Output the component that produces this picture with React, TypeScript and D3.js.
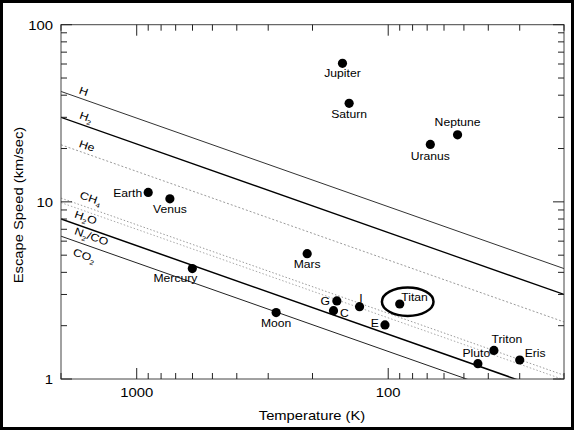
import React from "react";
import * as d3 from "d3";

// ---------- data ----------
const bodyNames = ["Earth", "Venus", "Mercury", "Jupiter", "Saturn", "Uranus", "Neptune", "Mars", "G", "C", "I", "Titan", "E", "Moon", "Triton", "Pluto", "Eris"];
const bodyTemps = [900, 738, 601, 152, 143, 68, 53, 210, 160, 165, 130, 90, 103, 279, 38, 44, 30];
const bodySpeeds = [11.3, 10.4, 4.2, 60.5, 36, 21.1, 23.9, 5.1, 2.76, 2.43, 2.56, 2.65, 2.02, 2.37, 1.45, 1.22, 1.28];

const gasNames = ["H", "H2", "He", "CH4", "H2O", "N2/CO", "CO2"];
const gasSpeedAt2000K = [42, 30, 21, 10.5, 9.9, 8.0, 6.4];
const gasSpeedAt20K = [4.2, 3.0, 2.1, 1.05, 0.99, 0.8, 0.64];

const xTickLabels = [1000, 100];
const yTickLabels = [1, 10, 100];

// ---------- layout ----------
const W = 574, H = 430;
const L = 61, R = 564, T = 24.7, B = 379;
const FONT = "'Liberation Sans', Arial, Helvetica, sans-serif";

// label placements (layout, not data)
const bodyLabelPos: Record<string, { a: string; dx: number; dy: number }> = {
  Earth: { a: "end", dx: -6, dy: 4.5 },
  Venus: { a: "middle", dx: 0, dy: 14 },
  Mercury: { a: "end", dx: 5, dy: 13 },
  Jupiter: { a: "middle", dx: 0, dy: 13.5 },
  Saturn: { a: "middle", dx: 0, dy: 15 },
  Uranus: { a: "middle", dx: 0, dy: 15.5 },
  Neptune: { a: "middle", dx: 0, dy: -9 },
  Mars: { a: "middle", dx: 0, dy: 14.5 },
  G: { a: "end", dx: -7, dy: 4 },
  C: { a: "start", dx: 6.5, dy: 6 },
  I: { a: "middle", dx: 1.5, dy: -5 },
  Titan: { a: "start", dx: 1.5, dy: -3 },
  E: { a: "end", dx: -6, dy: 2.5 },
  Moon: { a: "middle", dx: 0, dy: 14.5 },
  Triton: { a: "start", dx: -2.3, dy: -7 },
  Pluto: { a: "end", dx: 12.3, dy: -7 },
  Eris: { a: "start", dx: 5, dy: -3 },
};

const gasStyle = [
  { stroke: "#333", w: 1, dash: "" },
  { stroke: "#000", w: 1.3, dash: "" },
  { stroke: "#9a9a9a", w: 1, dash: "2,2" },
  { stroke: "#9a9a9a", w: 1, dash: "1.5,2" },
  { stroke: "#aaaaaa", w: 1, dash: "1.5,2" },
  { stroke: "#000", w: 1.5, dash: "" },
  { stroke: "#222", w: 1, dash: "" },
];
const gasLabelDy = [-4, -5, -4, -6, 9.5, 10, 14];

const SX = 1.18;

function GasLabel({ name, size }: { name: string; size: number }) {
  // subscript digits
  const parts: React.ReactNode[] = [];
  let i = 0;
  for (const ch of name) {
    if (/[0-9]/.test(ch)) {
      parts.push(
        <tspan key={i++} fontSize={size * 0.62} dy={3}>{ch}</tspan>
      );
      parts.push(<tspan key={i++} dy={-3}>{"\u200B"}</tspan>);
    } else {
      parts.push(<tspan key={i++}>{ch}</tspan>);
    }
  }
  return <>{parts}</>;
}

export default function App() {
  const x = d3.scaleLog().domain([2000, 20]).range([L, R]);
  const y = d3.scaleLog().domain([1, 100]).range([B, T]);

  const xTicks = x.ticks();
  const yTicks = y.ticks();
  const isMajor = (v: number) => Math.abs(Math.log10(v) - Math.round(Math.log10(v))) < 1e-9;

  const line = d3.line<[number, number]>().x((d) => x(d[0])).y((d) => y(d[1]));

  const titanIdx = bodyNames.indexOf("Titan");

  return (
    <svg width={W} height={H} style={{ position: "absolute", left: 0, top: 0, background: "#fff" }} fontFamily={FONT}>
      <defs>
        <clipPath id="plot">
          <rect x={L} y={T} width={R - L} height={B - T} />
        </clipPath>
      </defs>
      <rect x={0} y={0} width={W} height={H} fill="#fff" />
      <rect x={1.5} y={1.5} width={W - 3} height={H - 3} fill="none" stroke="#000" strokeWidth={3} />

      {/* gas lines */}
      <g clipPath="url(#plot)">
        {gasNames.map((g, i) => (
          <path
            key={g}
            d={line([[2000, gasSpeedAt2000K[i]], [20, gasSpeedAt20K[i]]]) || ""}
            fill="none"
            stroke={gasStyle[i].stroke}
            strokeWidth={gasStyle[i].w}
            strokeDasharray={gasStyle[i].dash || undefined}
          />
        ))}
      </g>
      {gasNames.map((g, i) => {
        const x0 = x(2000), y0 = y(gasSpeedAt2000K[i]);
        const x1 = x(20), y1 = y(gasSpeedAt20K[i]);
        const ang = (Math.atan2(y1 - y0, x1 - x0) * 180) / Math.PI;
        const lx = 77;
        const ly = y0 + ((y1 - y0) * (lx - x0)) / (x1 - x0);
        return (
          <text
            key={g}
            transform={`translate(${lx},${ly}) rotate(${ang}) translate(0,${gasLabelDy[i]}) scale(${SX},1)`}
            fontSize={10.5}
            fill="#000"
          >
            <GasLabel name={g} size={10.5} />
          </text>
        );
      })}

      {/* frame */}
      <rect x={L} y={T} width={R - L} height={B - T} fill="none" stroke="#444" strokeWidth={1} />

      {/* ticks */}
      {xTicks.map((v) => {
        const len = isMajor(v) ? 11 : 6;
        const px = x(v);
        return (
          <g key={"xt" + v}>
            <line x1={px} x2={px} y1={B} y2={B - len} stroke="#222" strokeWidth={1} />
            <line x1={px} x2={px} y1={T} y2={T + len} stroke="#222" strokeWidth={1} />
          </g>
        );
      })}
      {yTicks.map((v) => {
        const len = isMajor(v) ? 11 : 6;
        const py = y(v);
        return (
          <g key={"yt" + v}>
            <line x1={L} x2={L + len} y1={py} y2={py} stroke="#222" strokeWidth={1} />
            <line x1={R} x2={R - len} y1={py} y2={py} stroke="#222" strokeWidth={1} />
          </g>
        );
      })}

      {/* tick labels */}
      {xTickLabels.map((v) => (
        <text key={"xl" + v} transform={`translate(${x(v)},${397}) scale(1.1,1)`} textAnchor="middle" fontSize={13.5} fill="#000">
          {v}
        </text>
      ))}
      {yTickLabels.map((v) => (
        <text key={"yl" + v} transform={`translate(${53},${y(v) + 4.8}) scale(1.1,1)`} textAnchor="end" fontSize={13.5} fill="#000">
          {v}
        </text>
      ))}

      {/* axis titles */}
      <text transform={`translate(${312},${420}) scale(${SX},1)`} textAnchor="middle" fontSize={12.5} fill="#000">
        Temperature (K)
      </text>
      <text transform={`translate(${23},${205}) rotate(-90) scale(${SX},1)`} textAnchor="middle" fontSize={12.5} fill="#000">
        Escape Speed (km/sec)
      </text>

      {/* Titan ellipse */}
      <ellipse
        cx={x(bodyTemps[titanIdx]) + 8}
        cy={y(bodySpeeds[titanIdx]) - 2.3}
        rx={25.8}
        ry={14.2}
        fill="none"
        stroke="#000"
        strokeWidth={2.5}
      />

      {/* bodies */}
      {bodyNames.map((n, i) => {
        const px = x(bodyTemps[i]);
        const py = y(bodySpeeds[i]);
        const p = bodyLabelPos[n];
        return (
          <g key={n}>
            <circle cx={px} cy={py} r={4.6} fill="#000" />
            <text
              transform={`translate(${px + p.dx},${py + p.dy}) scale(${SX},1)`}
              textAnchor={p.a as any}
              fontSize={10.3}
              fill="#000"
            >
              {n}
            </text>
          </g>
        );
      })}
    </svg>
  );
}
